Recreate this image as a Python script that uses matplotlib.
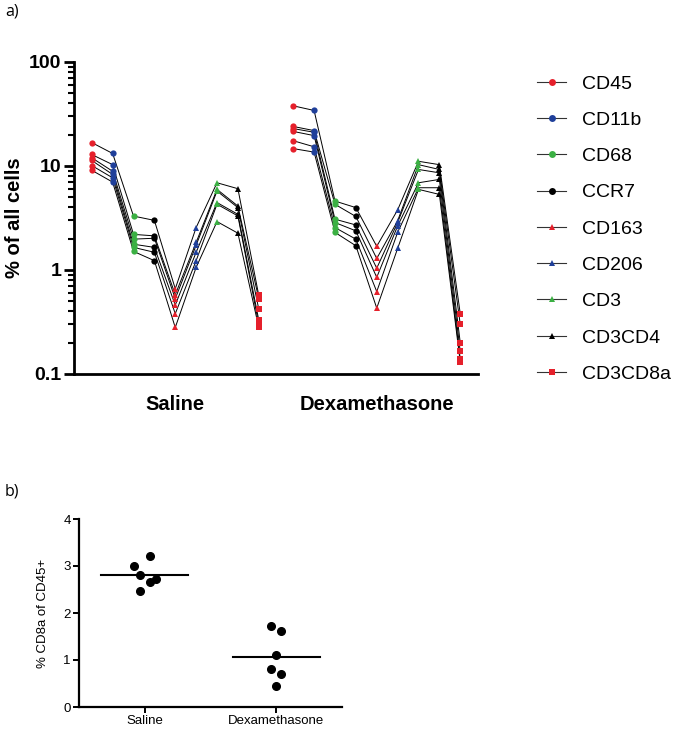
import matplotlib
matplotlib.use("Agg")
import matplotlib.pyplot as plt
from matplotlib.lines import Line2D
import numpy as np

plt.rcParams['font.family'] = ['Liberation Sans', 'DejaVu Sans']

# ---------------- data ----------------
markers_names = ["CD45", "CD11b", "CD68", "CCR7", "CD163", "CD206", "CD3", "CD3CD4", "CD3CD8a"]
groups = ["Saline", "Dexamethasone"]

# % of all cells, 6 animals per group, per marker
saline = {
    "CD45":    [16.8, 12.9, 12.0, 11.3, 10.1, 9.1],
    "CD11b":   [13.2, 10.3, 8.9, 8.3, 7.7, 7.0],
    "CD68":    [3.3, 2.2, 1.98, 1.77, 1.65, 1.51],
    "CCR7":    [3.0, 2.13, 2.02, 1.65, 1.48, 1.23],
    "CD163":   [0.66, 0.58, 0.53, 0.46, 0.38, 0.28],
    "CD206":   [2.56, 1.84, 1.73, 1.48, 1.23, 1.06],
    "CD3":     [6.9, 5.96, 5.74, 4.45, 4.29, 2.92],
    "CD3CD4":  [6.05, 4.12, 3.98, 3.43, 3.31, 2.26],
    "CD3CD8a": [0.57, 0.53, 0.42, 0.33, 0.30, 0.28],
}
dexa = {
    "CD45":    [37.9, 24.0, 22.9, 21.5, 17.5, 14.7],
    "CD11b":   [34.2, 21.9, 21.1, 19.6, 15.3, 13.6],
    "CD68":    [4.6, 4.28, 3.08, 2.86, 2.56, 2.30],
    "CCR7":    [3.98, 3.27, 2.71, 2.38, 1.98, 1.71],
    "CD163":   [1.69, 1.29, 1.04, 0.85, 0.62, 0.43],
    "CD206":   [3.78, 2.97, 2.86, 2.65, 2.30, 1.61],
    "CD3":     [11.1, 10.3, 9.26, 6.9, 6.18, 5.96],
    "CD3CD4":  [10.3, 9.26, 8.6, 7.43, 6.18, 5.33],
    "CD3CD8a": [0.38, 0.30, 0.20, 0.165, 0.14, 0.13],
}

# % CD8a of CD45+
b_groups = ["Saline", "Dexamethasone"]
b_saline = [3.22, 3.01, 2.80, 2.73, 2.65, 2.46]
b_dexa = [1.72, 1.61, 1.10, 0.81, 0.71, 0.44]

# ---------------- styles ----------------
RED = '#e5202b'
BLUE = '#1f3f9a'
GREEN = '#3bb043'
BLACK = '#000000'
styles = {
    "CD45": (RED, 'o'), "CD11b": (BLUE, 'o'), "CD68": (GREEN, 'o'), "CCR7": (BLACK, 'o'),
    "CD163": (RED, '^'), "CD206": (BLUE, '^'), "CD3": (GREEN, '^'), "CD3CD4": (BLACK, '^'),
    "CD3CD8a": (RED, 's'),
}
group_offset = 9.65
jit_sal = [0.04, -0.081, -0.038, 0.083, 0.04, -0.038]
jit_dex = [-0.043, 0.035, 0.0, -0.043, 0.035, 0.0]

fig = plt.figure(figsize=(6.85, 7.3), dpi=100)

# ---------------- panel a ----------------
ax = fig.add_axes([74/685, 1-374/730, (478-74)/685, (374-62)/730])
ax.set_yscale('log')
ax.set_ylim(0.1, 100)
ax.set_xlim(-0.85, 18.5)

for gi, gdata in enumerate([saline, dexa]):
    xs = np.arange(len(markers_names)) + gi * group_offset
    n = len(gdata[markers_names[0]])
    for a in range(n):
        ys = [gdata[m][a] for m in markers_names]
        ax.plot(xs, ys, color='black', lw=0.7, zorder=2)
    for j, m in enumerate(markers_names):
        c, mk = styles[m]
        ax.plot([xs[j]] * n, gdata[m], linestyle='none', marker=mk, color=c,
                markersize=4.5, markeredgewidth=0, zorder=3)

for s in ['top', 'right']:
    ax.spines[s].set_visible(False)
for s in ['left', 'bottom']:
    ax.spines[s].set_linewidth(2)
ax.set_yticks([0.1, 1, 10, 100])
ax.set_yticklabels(['0.1', '1', '10', '100'])
ax.tick_params(axis='y', which='major', length=7, width=2, labelsize=14, pad=2)
ax.tick_params(axis='y', which='minor', length=4, width=1.5)
ax.yaxis.set_minor_formatter(matplotlib.ticker.NullFormatter())
for lab in ax.get_yticklabels():
    lab.set_fontweight('bold')
ax.set_xticks([4, 4 + group_offset])
ax.set_xticklabels(groups, fontsize=14.5, fontweight='bold')
ax.tick_params(axis='x', length=0, pad=15)
ax.set_ylabel('% of all cells', fontsize=14.5, fontweight='bold', labelpad=4)

handles = []
for m in markers_names:
    c, mk = styles[m]
    handles.append(Line2D([0], [0], color='#333333', lw=0.8, marker=mk, markerfacecolor=c,
                          markeredgewidth=0, markersize=5, label=m))
fig.legend(handles=handles, loc='upper left', bbox_to_anchor=(537/685, 1-75/730),
           frameon=False, fontsize=14, labelspacing=0.96, handlelength=1.5,
           handletextpad=0.8, borderpad=0, borderaxespad=0)

fig.text(5/685, 1-12/730, 'a)', fontsize=11.5, family=['Open Sans', 'DejaVu Sans'], va='center')
fig.text(5/685, 1-492/730, 'b)', fontsize=11.5, family=['Open Sans', 'DejaVu Sans'], va='center')

# ---------------- panel b ----------------
bx = fig.add_axes([79/685, 1-707/730, (342-79)/685, (707-519)/730])
bx.set_xlim(0.5, 2.5)
bx.set_ylim(0, 4)
for gi, (vals, jit) in enumerate([(b_saline, jit_sal), (b_dexa, jit_dex)]):
    xc = gi + 1
    bx.plot(xc + np.array(jit), vals, 'o', color='black', markersize=5.5, zorder=3)
    mean = np.mean(vals)
    bx.plot([xc - 0.33, xc + 0.33], [mean, mean], color='black', lw=1.5, zorder=2)
for s in ['top', 'right']:
    bx.spines[s].set_visible(False)
for s in ['left', 'bottom']:
    bx.spines[s].set_linewidth(1.6)
bx.set_yticks([0, 1, 2, 3, 4])
bx.set_xticks([1, 2])
bx.set_xticklabels(b_groups)
bx.tick_params(axis='both', length=4, width=1.4, labelsize=9.5, pad=2)
bx.set_ylabel('% CD8a of CD45+', fontsize=9.5, labelpad=10)

fig.savefig('out.png', dpi=100)
